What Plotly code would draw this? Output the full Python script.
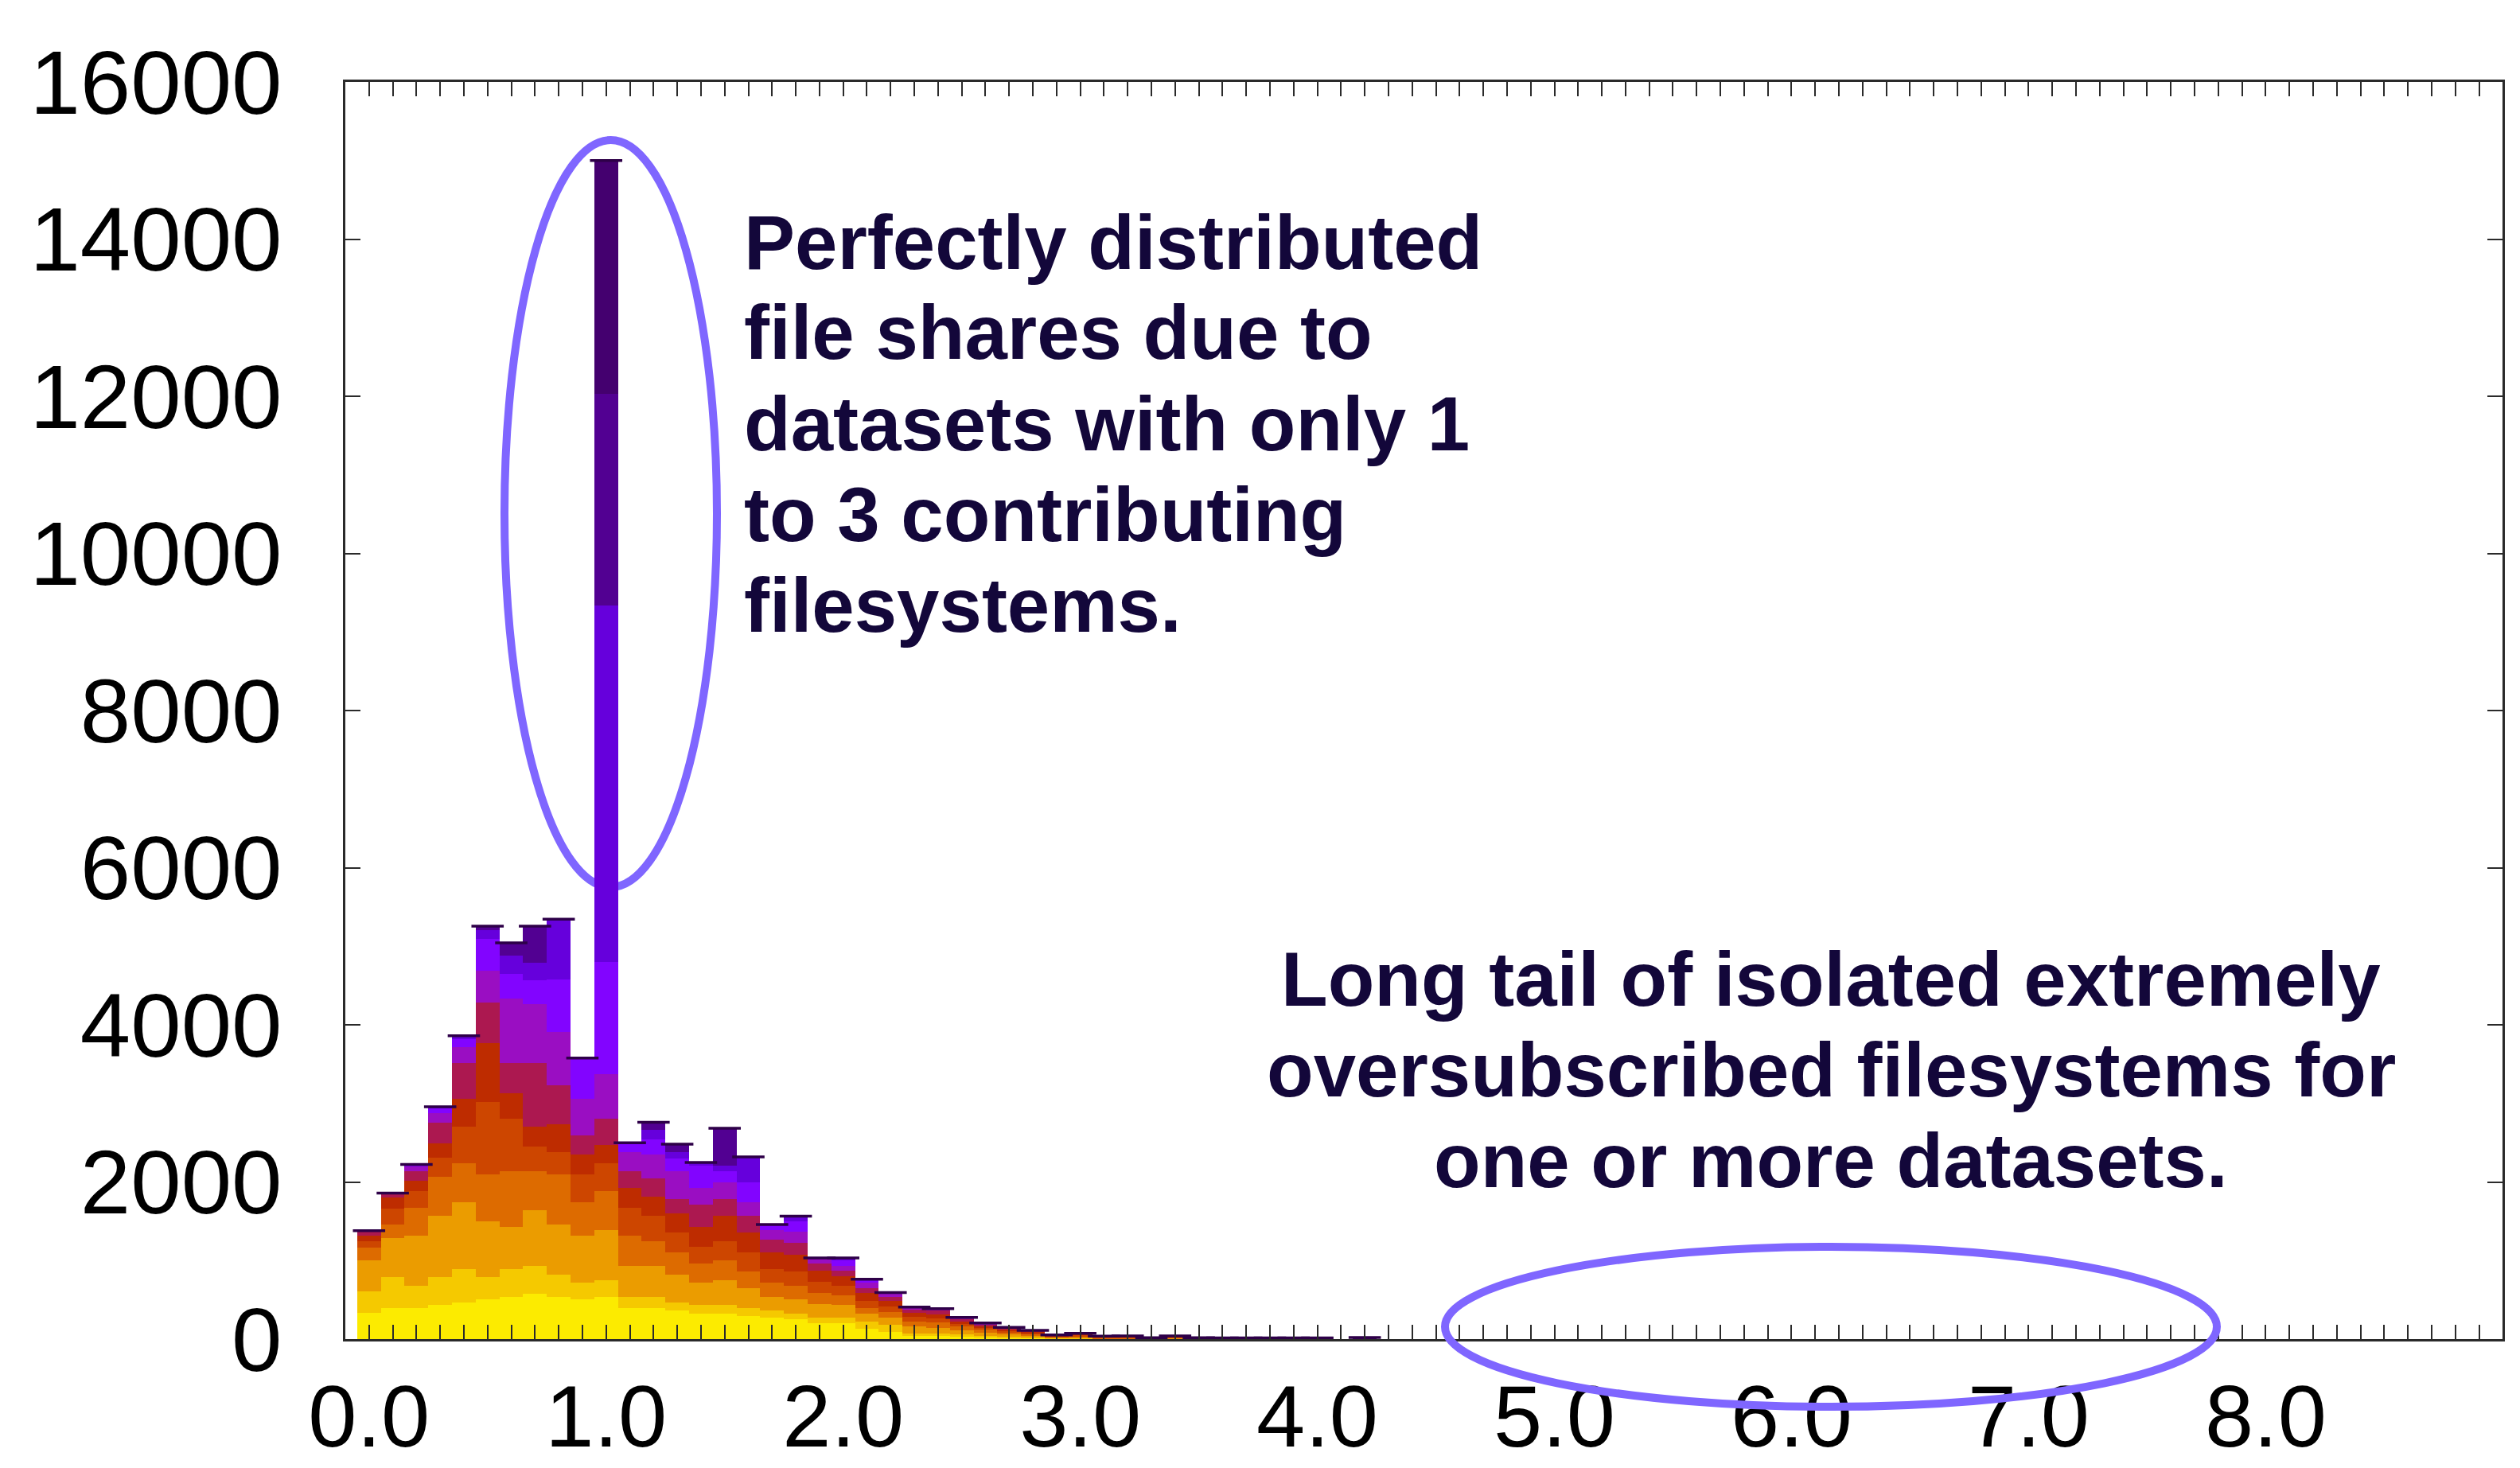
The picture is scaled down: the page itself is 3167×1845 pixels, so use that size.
import plotly.graph_objects as go

# ---------------- data ----------------
bins = [0.0, 0.1, 0.2, 0.3, 0.4, 0.5, 0.6, 0.7, 0.8, 0.9,
        1.0, 1.1, 1.2, 1.3, 1.4, 1.5, 1.6, 1.7, 1.8, 1.9,
        2.0, 2.1, 2.2, 2.3, 2.4, 2.5, 2.6, 2.7, 2.8, 2.9,
        3.0, 3.1, 3.2, 3.3, 3.4, 3.5, 3.6, 3.7, 3.8, 3.9,
        4.0, 4.1, 4.2]

totals = [1379, 1858, 2223, 2957, 3862, 5255, 5042, 5255, 5344, 3578,
          15000, 2500, 2759, 2482, 2248, 2684, 2319, 1457, 1564, 1032,
          1032, 762, 592, 408, 388, 277, 206, 149, 111, 54,
          74, 37, 40, 17, 40, 17, 14, 14, 14, 14,
          14, 0, 20]

# cumulative height at which the stacked colour reaches each palette level
lv95 = [330, 397, 397, 433, 468, 503, 539, 574, 539, 503,
        539, 397, 397, 362, 326, 326, 291, 273, 255, 202,
        202, 131, 96, 40, 36, 30, 24, 18, 13, 6,
        8, 3, 3, 0, 4, 0, 0, 0, 0, 0, 0, 0, 0]
lv90 = [610, 787, 681, 787, 894, 787, 894, 929, 823, 716,
        752, 539, 539, 468, 433, 433, 397, 362, 326, 273,
        273, 220, 184, 74, 68, 57, 45, 35, 25, 12,
        15, 5, 5, 0, 6, 0, 0, 0, 0, 0, 0, 0, 0]
lv80 = [1000, 1284, 1319, 1567, 1745, 1496, 1425, 1638, 1461, 1319,
        1390, 929, 929, 823, 716, 752, 645, 539, 504, 450,
        433, 326, 273, 159, 142, 108, 85, 60, 45, 22,
        28, 10, 10, 0, 12, 0, 0, 0, 0, 0, 0, 0, 0]
lv70 = [1160, 1461, 1674, 2064, 2241, 2099, 2135, 2135, 2099, 1745,
        1886, 1319, 1248, 1106, 965, 1000, 858, 716, 681, 592,
        557, 397, 344, 226, 209, 159, 120, 85, 62, 30,
        40, 15, 16, 0, 20, 0, 0, 0, 0, 0, 0, 0, 0]
lv60 = [1250, 1656, 1886, 2312, 2702, 3021, 2808, 2454, 2383, 2099,
        2241, 1674, 1567, 1355, 1177, 1248, 1106, 894, 858, 734,
        681, 486, 415, 284, 260, 192, 145, 105, 78, 38,
        52, 22, 24, 0, 28, 0, 0, 0, 0, 0, 0, 0, 0]
lv50 = [1320, 1798, 2011, 2489, 3057, 3766, 3128, 2702, 2738, 2347,
        2472, 1922, 1816, 1603, 1426, 1567, 1355, 1106, 1071, 876,
        805, 592, 486, 338, 317, 226, 170, 122, 92, 45,
        62, 30, 32, 0, 36, 0, 0, 0, 0, 0, 0, 0, 0]
lv40 = [1379, 1858, 2135, 2755, 3518, 4280, 3518, 3518, 3234, 2596,
        2808, 2135, 2046, 1780, 1709, 1780, 1567, 1266, 1230, 965,
        876, 652, 539, 371, 361, 253, 190, 138, 103, 50,
        68, 37, 40, 0, 40, 0, 0, 0, 0, 0, 0, 0, 0]
lv30 = [1379, 1858, 2199, 2879, 3713, 4688, 4333, 4262, 3908, 3057,
        3376, 2383, 2347, 2135, 1922, 1993, 1745, 1390, 1372, 1032,
        929, 716, 592, 408, 388, 277, 206, 149, 111, 54,
        74, 37, 40, 0, 40, 0, 0, 0, 0, 0, 0, 0, 0]
lv20 = [1379, 1858, 2223, 2943, 3819, 5096, 4652, 4564, 4581, 3578,
        4804, 2500, 2542, 2294, 2206, 2135, 1993, 1457, 1496, 1032,
        1000, 762, 592, 408, 388, 277, 206, 149, 111, 54,
        74, 37, 40, 0, 40, 0, 0, 0, 0, 0, 0, 0, 0]
lv10 = [1379, 1858, 2223, 2957, 3862, 5202, 4883, 4794, 5344, 3578,
        9333, 2500, 2667, 2383, 2248, 2206, 2319, 1457, 1564, 1032,
        1032, 762, 592, 408, 388, 277, 206, 149, 111, 54,
        74, 37, 40, 0, 40, 0, 0, 0, 0, 0, 0, 0, 0]
lv085 = [1379, 1858, 2223, 2957, 3862, 5255, 5042, 5255, 5344, 3578,
         12029, 2500, 2759, 2482, 2248, 2684, 2319, 1457, 1564, 1032,
         1032, 762, 592, 408, 388, 277, 206, 149, 111, 54,
         74, 37, 40, 0, 40, 0, 0, 0, 0, 0, 0, 0, 0]

x_ticks = [0, 1, 2, 3, 4, 5, 6, 7, 8]
x_labels = ["0.0", "1.0", "2.0", "3.0", "4.0", "5.0", "6.0", "7.0", "8.0"]
y_ticks = [0, 2000, 4000, 6000, 8000, 10000, 12000, 14000, 16000]
y_labels = ["0", "2000", "4000", "6000", "8000", "10000", "12000", "14000", "16000"]

note1 = ["Perfectly distributed", "file shares due to",
         "datasets with only 1", "to 3 contributing", "filesystems."]
note2 = ["Long tail of isolated extremely",
         "oversubscribed filesystems for", "one or more datasets."]

# ---------------- styling ----------------
band_colors = ["#FCEB00", "#F5C900", "#EB9C00", "#DD6B00", "#CD4600",
               "#BE2C00", "#AC1850", "#9A0EC2", "#8204FF", "#6600DC",
               "#520092", "#44006F"]
levels = [lv95, lv90, lv80, lv70, lv60, lv50, lv40, lv30, lv20, lv10, lv085, totals]
FONT = "Liberation Sans, Arial, Helvetica, sans-serif"
TXT = "#13073A"
AX = "#2a2a2a"

fig = go.Figure()
prev = [0] * len(bins)
for lv, col in zip(levels, band_colors):
    seg = [max(0, min(v, t) - min(p, t)) for v, p, t in zip(lv, prev, totals)]
    fig.add_trace(go.Bar(x=bins, y=seg, width=0.1, marker=dict(color=col, line=dict(width=0)),
                         hoverinfo="skip"))
    prev = [min(v, t) for v, t in zip(lv, totals)]

# thin dark cap on top of every box
cap_x = [b for b, t in zip(bins, totals) if t > 0]
cap_y = [t for t in totals if t > 0]
fig.add_trace(go.Scatter(x=cap_x, y=cap_y, mode="markers",
                         marker=dict(symbol="line-ew", size=29,
                                     line=dict(width=3.5, color="#2E0048")),
                         hoverinfo="skip"))

L, R, T, B = 434, 22, 103, 162
W, H = 3167, 1845
PW, PH = W - L - R, H - T - B


def px(xp):
    return (xp - L) / PW


def py(yp):
    return (H - B - yp) / PH


annotations = []
for i, line in enumerate(note1):
    annotations.append(dict(text="<b>%s</b>" % line, x=px(933), y=py(304 + 114 * i),
                            xref="paper", yref="paper", xanchor="left", yanchor="middle",
                            showarrow=False, font=dict(family=FONT, size=96, color=TXT)))
for i, line in enumerate(note2):
    annotations.append(dict(text="<b>%s</b>" % line, x=px(2301), y=py(1230 + 114 * i),
                            xref="paper", yref="paper", xanchor="center", yanchor="middle",
                            showarrow=False, font=dict(family=FONT, size=96, color=TXT)))

shapes = [
    dict(type="circle", xref="paper", yref="paper",
         x0=px(634), x1=px(901), y0=py(1115), y1=py(176),
         line=dict(color="#7F66FF", width=10), layer="below"),
    dict(type="circle", xref="paper", yref="paper",
         x0=px(1816), x1=px(2786), y0=py(1768), y1=py(1567),
         line=dict(color="#7F66FF", width=10), layer="above"),
]

fig.update_layout(
    width=W, height=H, autosize=False,
    margin=dict(l=L, r=R, t=T, b=B, pad=0, autoexpand=False),
    paper_bgcolor="white", plot_bgcolor="white",
    barmode="stack", bargap=0, showlegend=False,
    annotations=annotations, shapes=shapes,
    xaxis=dict(range=[-0.1, 8.999], tickmode="array", tickvals=x_ticks, ticktext=x_labels,
               ticks="inside", ticklen=18, tickwidth=2, tickcolor=AX,
               minor=dict(tickmode="linear", tick0=0, dtick=0.1, ticks="inside",
                          ticklen=18, tickwidth=2, tickcolor=AX, showgrid=False),
               showline=True, linewidth=2.5, linecolor=AX, mirror="ticks",
               showgrid=False, zeroline=False, ticklabelstandoff=0, automargin=False,
               tickfont=dict(family=FONT, size=110, color="black")),
    yaxis=dict(range=[0, 16000], tickmode="array", tickvals=y_ticks, ticktext=y_labels,
               ticks="inside", ticklen=19, tickwidth=2, tickcolor=AX,
               showline=True, linewidth=2.5, linecolor=AX, mirror="ticks",
               showgrid=False, zeroline=False, ticklabelstandoff=54, automargin=False,
               tickfont=dict(family=FONT, size=114, color="black")),
)

fig.write_html("out.html", config={"displayModeBar": False},
               post_script="document.body.style.margin='0';document.body.style.overflow='hidden';")
